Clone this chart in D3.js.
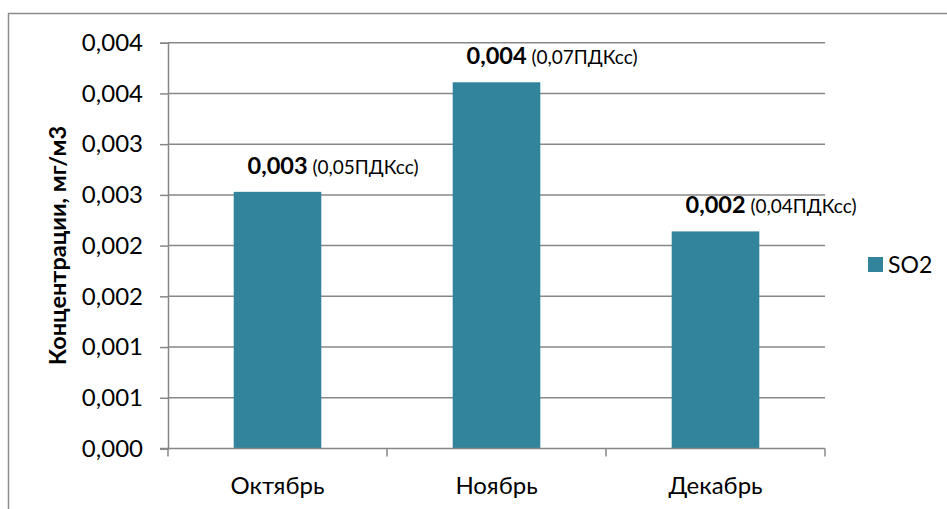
<!DOCTYPE html>
<html>
<head>
<meta charset="utf-8">
<script src="https://cdn.jsdelivr.net/npm/d3@7"></script>
<style>
  html, body { margin: 0; padding: 0; background: #fff; }
  svg { display: block; font-family: Lato, "Open Sans", sans-serif; }
</style>
</head>
<body>
<svg id="chart" width="947" height="509"></svg>
<script>
// Monthly mean SO2 concentration, mg/m3
const months = ["Октябрь", "Ноябрь", "Декабрь"];
const so2 = [0.00253, 0.00361, 0.00214];
// Share of the daily-average maximum permissible concentration (ПДКсс)
const pdkShare = ["0,05", "0,07", "0,04"];
const yTicks = [0, 0.0005, 0.001, 0.0015, 0.002, 0.0025, 0.003, 0.0035, 0.004];
const seriesName = "SO2";
const yTitle = "Концентрации, мг/м3";

const barColor = "#31849b";
const gridColor = "#878787";

const svg = d3.select("#chart");
const margin = { left: 168, right: 122, top: 42.7, bottom: 60.5 };
const W = 947, H = 509;

const ru = d3.formatLocale({ decimal: ",", thousands: "\u00a0", grouping: [3], currency: ["", ""] });
const fmt = ru.format(".3f");

// outer chart frame
svg.append("rect")
  .attr("x", 8.5).attr("y", 13.5)
  .attr("width", 960).attr("height", 520)
  .attr("fill", "none").attr("stroke", "#8c8c8c").attr("stroke-width", 1.5);

const x = d3.scaleBand()
  .domain(months)
  .range([margin.left, W - margin.right])
  .paddingInner(0.6).paddingOuter(0.3);

const y = d3.scaleLinear()
  .domain([0, 0.004])
  .range([H - margin.bottom, margin.top]);

// horizontal gridlines
svg.append("g")
  .selectAll("line")
  .data(yTicks.slice(1))
  .join("line")
  .attr("x1", margin.left).attr("x2", W - margin.right)
  .attr("y1", d => y(d)).attr("y2", d => y(d))
  .attr("stroke", gridColor).attr("stroke-width", 1.5);

// y axis
const yAxis = svg.append("g")
  .attr("transform", `translate(${margin.left},0)`)
  .call(d3.axisLeft(y).tickValues(yTicks).tickFormat(fmt).tickSize(8).tickPadding(17));
yAxis.select(".domain").attr("stroke", gridColor).attr("stroke-width", 1.5);
yAxis.selectAll(".tick line").attr("stroke", gridColor).attr("stroke-width", 1.5);
yAxis.selectAll(".tick text")
  .attr("fill", "#000").attr("font-size", 24).attr("font-family", "Lato, sans-serif");

// bars
svg.append("g")
  .selectAll("rect")
  .data(so2)
  .join("rect")
  .attr("x", (d, i) => x(months[i]))
  .attr("width", x.bandwidth())
  .attr("y", d => y(d))
  .attr("height", d => y(0) - y(d))
  .attr("fill", barColor);

// x axis with ticks between categories
const xAxisG = svg.append("g").attr("transform", `translate(0,${y(0)})`);
const step = x.step();
const bounds = [margin.left].concat(months.map(m => x(m) + x.bandwidth() / 2 + step / 2));
xAxisG.append("line")
  .attr("x1", margin.left - 8).attr("x2", W - margin.right)
  .attr("stroke", gridColor).attr("stroke-width", 1.5);
xAxisG.selectAll("line.tick")
  .data(bounds)
  .join("line")
  .attr("class", "tick")
  .attr("x1", d => d).attr("x2", d => d)
  .attr("y1", 0).attr("y2", 8)
  .attr("stroke", gridColor).attr("stroke-width", 1.5);
xAxisG.selectAll("text")
  .data(months)
  .join("text")
  .attr("x", d => x(d) + x.bandwidth() / 2)
  .attr("y", 45)
  .attr("text-anchor", "middle")
  .attr("font-size", 24)
  .attr("fill", "#000")
  .text(d => d);

// value labels above bars
const labels = svg.append("g")
  .selectAll("text")
  .data(so2)
  .join("text")
  .attr("x", (d, i) => x(months[i]) + x.bandwidth() / 2 - 30)
  .attr("y", d => y(d) - 18)
  .attr("fill", "#000");
labels.append("tspan")
  .attr("font-weight", "bold").attr("font-size", 23.5)
  .text(d => fmt(d));
labels.append("tspan")
  .attr("font-size", 19)
  .text((d, i) => "\u00a0(" + pdkShare[i] + "ПДКсс)");

// y axis title
svg.append("text")
  .attr("transform", `translate(66,${(margin.top + H - margin.bottom) / 2}) rotate(-90)`)
  .attr("text-anchor", "middle")
  .attr("font-weight", "bold")
  .attr("font-size", 23.5)
  .attr("fill", "#000")
  .text(yTitle);

// legend
const legend = svg.append("g").attr("transform", "translate(868,257)");
legend.append("rect").attr("width", 15).attr("height", 15).attr("fill", barColor);
legend.append("text")
  .attr("x", 20).attr("y", 7.5).attr("dy", "0.36em")
  .attr("font-size", 23).attr("fill", "#000")
  .text(seriesName);
</script>
</body>
</html>
